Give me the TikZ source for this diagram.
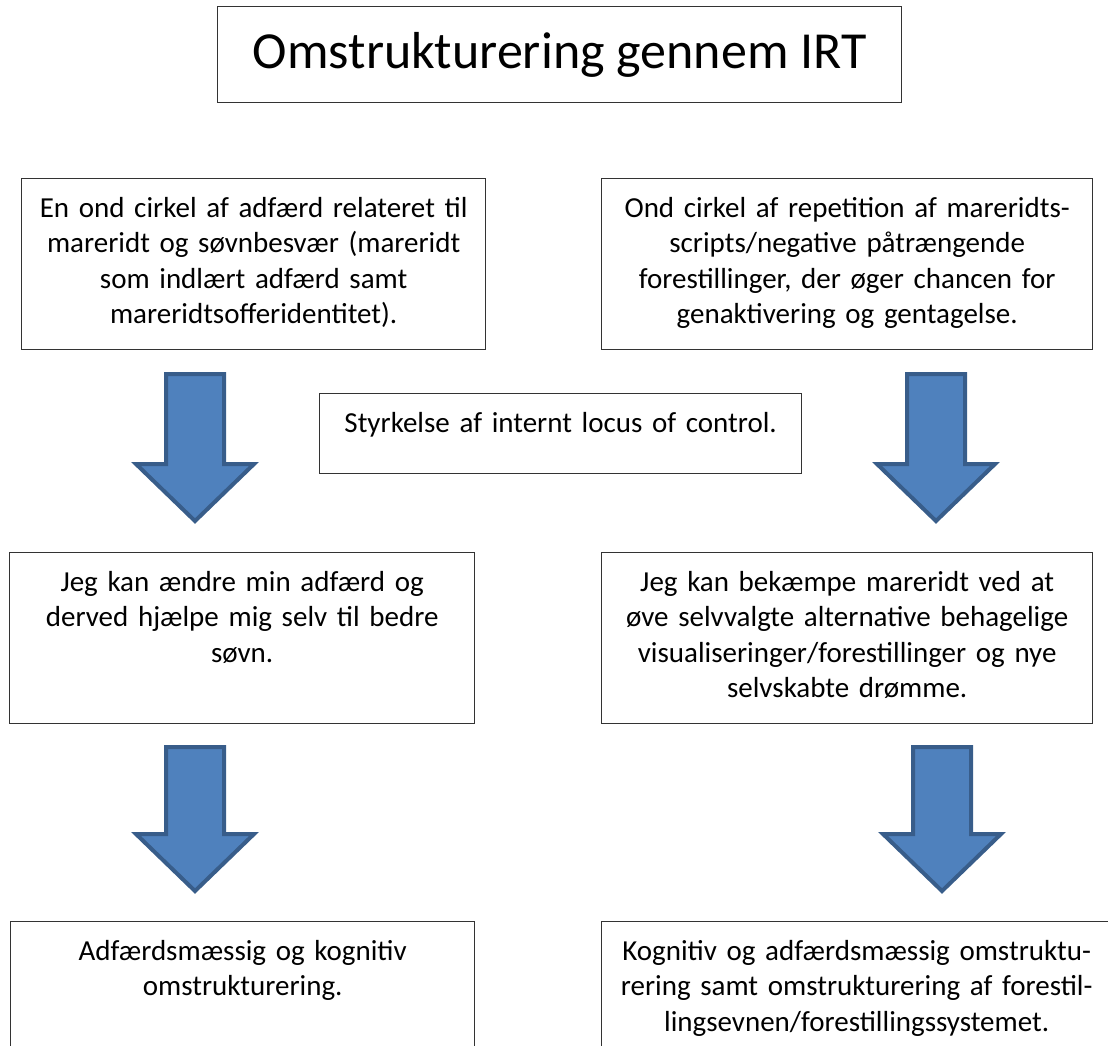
\documentclass[tikz,border=0pt]{standalone}
\usepackage{fontspec}
\setmainfont{Carlito}
\usetikzlibrary{calc}
\definecolor{arrowfill}{HTML}{4F81BD}
\definecolor{arrowline}{HTML}{385D8A}
\tikzset{
  boxframe/.style={draw=black!80, line width=1.3pt, inner sep=0pt, anchor=north west},
  boxtext/.style={inner sep=0pt, align=center, anchor=north,
    font=\fontsize{29}{35.5}\selectfont, execute at begin node={\rule{0pt}{22pt}}},
  blockarrow/.style={fill=arrowfill, draw=arrowline, line width=4pt, line join=miter},
}
\newcommand\irtarrow[3]{% x centre, y top, y tip
  \draw[blockarrow] (#1-29,#2+2) -- (#1+29,#2+2) -- (#1+29,#3-60) -- (#1+59,#3-60)
    -- (#1,#3-3) -- (#1-59,#3-60) -- (#1-29,#3-60) -- cycle;}
\begin{document}
\begin{tikzpicture}[x=1pt,y=-1pt]
\useasboundingbox (0,0) rectangle (1108,1045);
\clip (0,0) rectangle (1108,1045);

% title
\node[boxframe, minimum width=684pt, minimum height=96pt] (title) at (217,6) {};
\node[inner sep=0pt, font=\fontsize{52}{62}\selectfont] (titletext) at (title.center) {Omstrukturering gennem IRT};

% boxes
\node[boxframe, minimum width=464pt, minimum height=171pt] (A) at (21,178) {};
\node[boxframe, minimum width=491pt, minimum height=171pt] (B) at (601,178) {};
\node[boxframe, minimum width=482pt, minimum height=80pt] (M) at (319,393) {};
\node[boxframe, minimum width=465pt, minimum height=171pt] (C) at (9,552) {};
\node[boxframe, minimum width=491pt, minimum height=171pt] (D) at (601,552) {};
\node[boxframe, minimum width=464pt, minimum height=175pt] (E) at (10,921) {};
\node[boxframe, minimum width=510pt, minimum height=175pt] (F) at (601,921) {};

% texts
\node[boxtext, text width=450pt] (Atext) at ($(A.north)+(0,17)$)
  {En ond cirkel af adfærd relateret til\\ mareridt og søvnbesvær (mareridt\\ som indlært adfærd samt\\ mareridtsofferidentitet).};
\node[boxtext, text width=480pt] (Btext) at ($(B.north)+(0,17)$)
  {Ond cirkel af repetition af mareridts-\\ scripts/negative påtrængende\\ forestillinger, der øger chancen for\\ genaktivering og gentagelse.};
\node[boxtext, text width=470pt] (Mtext) at ($(M.north)+(0,17)$)
  {Styrkelse af internt locus of control.};
\node[boxtext, text width=450pt] (Ctext) at ($(C.north)+(0,17)$)
  {Jeg kan ændre min adfærd og\\ derved hjælpe mig selv til bedre\\ søvn.};
\node[boxtext, text width=480pt] (Dtext) at ($(D.north)+(0,17)$)
  {Jeg kan bekæmpe mareridt ved at\\ øve selvvalgte alternative behagelige\\ visualiseringer/forestillinger og nye\\ selvskabte drømme.};
\node[boxtext, text width=450pt] (Etext) at ($(E.north)+(0,17)$)
  {Adfærdsmæssig og kognitiv\\ omstrukturering.};
\node[boxtext, text width=500pt] (Ftext) at ($(F.north)+(0,17)$)
  {Kognitiv og adfærdsmæssig omstruktu-\\ rering samt omstrukturering af forestil-\\ lingsevnen/forestillingssystemet.};

% block arrows
\irtarrow{195}{372}{524}
\irtarrow{936}{372}{524}
\irtarrow{195}{745}{894}
\irtarrow{942}{745}{894}
\end{tikzpicture}
\end{document}
